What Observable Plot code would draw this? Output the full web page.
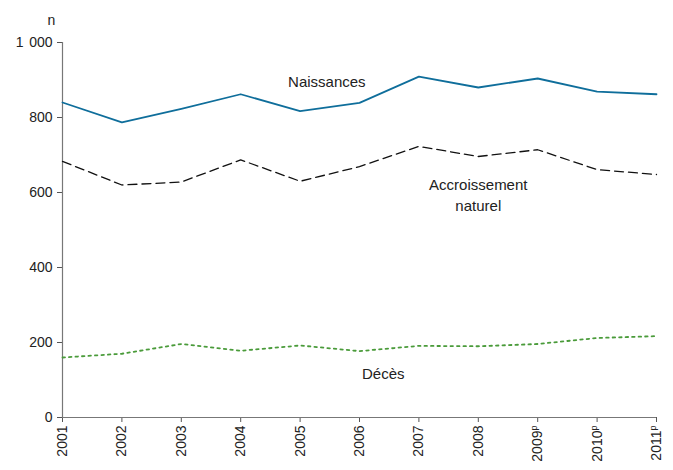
<!DOCTYPE html>
<html><head><meta charset="utf-8">
<script src="https://cdn.jsdelivr.net/npm/d3@7"></script>
<script src="https://cdn.jsdelivr.net/npm/@observablehq/plot@0.6"></script>
<style>body{margin:0;background:#fff;} svg{display:block;}</style>
</head><body><div id="chart"></div>
<script>
const years = [2001,2002,2003,2004,2005,2006,2007,2008,2009,2010,2011];
const provisional = [2009,2010,2011];
const naissances = [840,787,823,862,817,839,909,880,904,869,862];
const accroissement = [683,620,628,687,630,669,723,696,714,661,648];
const deces = [160,170,196,178,192,177,191,190,196,212,217];
const yTicks = [0,200,400,600,800,1000];
const labels = [
  {x:2005.45, y:893, t:"Naissances"},
  {x:2008.0, y:619, t:"Accroissement"},
  {x:2008.0, y:563, t:"naturel"},
  {x:2006.4, y:115, t:"Décès"}
];
const rows = (vals) => years.map((y,i)=>({year:y, v:vals[i]}));
const font = "'Liberation Sans', Arial, sans-serif";
const chart = Plot.plot({
  width:673, height:470,
  marginLeft:62, marginRight:17, marginTop:42, marginBottom:53,
  style:{fontFamily:font, fontSize:"14px", color:"#222", background:"#fff"},
  x:{domain:[2001,2011], ticks:years},
  y:{domain:[0,1000], ticks:yTicks},
  marks:[
    Plot.axisY({ticks:yTicks, tickSize:5, tickPadding:5, label:null, stroke:"#555", fill:"#222", fontSize:14,
      tickFormat:d=> d===1000 ? "1\u2009\u2009000" : String(d)}),
    Plot.axisX({ticks:years, tickSize:5, tickRotate:-90, tickPadding:3, label:null, stroke:"#555", fill:"#222", fontSize:14,
      tickFormat:d=>String(d)}),
    Plot.ruleX([2001], {stroke:"#777", strokeWidth:1.2}),
    Plot.ruleY([0], {stroke:"#777", strokeWidth:1.2}),
    Plot.line(rows(naissances), {x:"year", y:"v", stroke:"#0f6e9b", strokeWidth:1.8}),
    Plot.line(rows(accroissement), {x:"year", y:"v", stroke:"#111", strokeWidth:1.3, strokeDasharray:"9,5"}),
    Plot.line(rows(deces), {x:"year", y:"v", stroke:"#4a9b3a", strokeWidth:1.8, strokeDasharray:"2.5,4"}),
    Plot.text(labels, {x:"x", y:"y", text:"t", fill:"#222", fontSize:15}),
    Plot.text(["n"], {frameAnchor:"top-left", dx:-15, dy:-27, text:d=>d, fill:"#222", fontSize:14})
  ]
});
// superscript "p" on provisional years
d3.select(chart).selectAll("g[aria-label='x-axis tick label'] text").each(function(){
  const t = this.textContent.trim();
  if (provisional.includes(+t)) {
    d3.select(this).append("tspan").attr("font-size","9px").attr("dy","-5").text("p");
  }
});
document.getElementById("chart").appendChild(chart);
</script></body></html>
